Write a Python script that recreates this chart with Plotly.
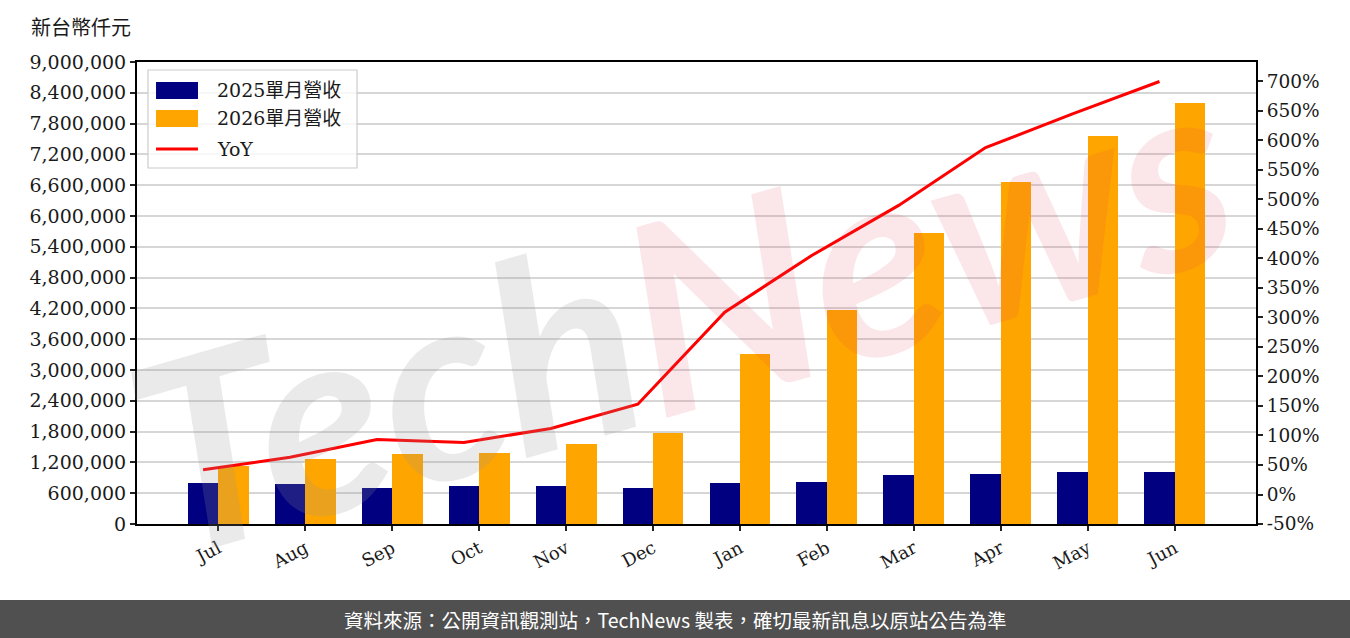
import numpy as np
import plotly.graph_objects as go

months = ["Jul", "Aug", "Sep", "Oct", "Nov", "Dec", "Jan", "Feb", "Mar", "Apr", "May", "Jun"]
rev_2025 = [793000, 774000, 697000, 735000, 735000, 697000, 803000, 823000, 959000, 965000, 1017000, 1017000]
rev_2026 = [1123000, 1258000, 1355000, 1374000, 1568000, 1781000, 3310000, 4166000, 5666000, 6671000, 7557000, 8196000]
yoy_pct = [42, 63, 93, 88, 112, 153, 309, 405, 490, 588, 645, 700]
left_ticks = list(range(0, 9000001, 600000))
right_ticks = list(range(-50, 701, 50))
right_labels = [f"{v}%" for v in right_ticks]

name_2025 = "2025單月營收"
name_2026 = "2026單月營收"
name_yoy = "YoY"

idx = np.arange(len(months))
w = 0.35
serif = "DejaVu Serif, Noto Sans CJK TC, serif"
cjk = "Noto Sans CJK TC, sans-serif"
txt = "#1a1a1a"

fig = go.Figure()
fig.add_trace(go.Bar(x=idx - w / 2, y=rev_2025, width=w, marker=dict(color="#000080", line=dict(width=0)),
                     name=name_2025, showlegend=False))
fig.add_trace(go.Bar(x=idx + w / 2, y=rev_2026, width=w, marker=dict(color="#FFA500", line=dict(width=0)),
                     name=name_2026, showlegend=False))
fig.add_trace(go.Scatter(x=idx - w / 2, y=yoy_pct, yaxis="y2", mode="lines",
                         line=dict(color="#FF0000", width=3), name=name_yoy, showlegend=False))

fig.update_layout(
    width=1350, height=638,
    margin=dict(l=137, r=94, t=62, b=114),
    paper_bgcolor="white", plot_bgcolor="white",
    barmode="overlay", bargap=0,
    xaxis=dict(range=[-0.935, 11.935], tickmode="array", tickvals=idx, ticktext=months,
               tickangle=-28, showline=True, linecolor="black", linewidth=2, mirror=True,
               ticks="outside", ticklen=5, tickwidth=1.5, tickcolor="#222",
               showgrid=False, zeroline=False,
               tickfont=dict(family=serif, size=18, color=txt)),
    yaxis=dict(range=[0, 9000000], tickmode="array", tickvals=left_ticks,
               tickformat=",d", showline=True, linecolor="black", linewidth=2,
               ticks="outside", ticklen=5, tickwidth=1.5, tickcolor="#222",
               showgrid=True, gridcolor="#d6d6d6", gridwidth=1.6, zeroline=False,
               tickfont=dict(family=serif, size=19, color=txt)),
    yaxis2=dict(range=[-50, 733], overlaying="y", side="right", tickmode="array",
                tickvals=right_ticks, ticktext=right_labels, showline=True, linecolor="black",
                linewidth=2, ticks="outside", ticklen=5, tickwidth=1.5, tickcolor="#222",
                showgrid=False, zeroline=False,
                tickfont=dict(family=serif, size=18.5, color=txt)),
)

# y-axis unit title
fig.add_annotation(text="新台幣仟元", xref="paper", yref="paper", x=-0.0497, y=1.076,
                   showarrow=False, font=dict(family=cjk, size=20, color=txt),
                   xanchor="center", yanchor="middle")

# watermark
fig.add_annotation(
    text="<span style='color:rgba(150,150,150,0.2)'>Tech</span><span style='color:rgba(220,60,80,0.12)'>News</span>",
    xref="paper", yref="paper", x=0.485, y=0.47, showarrow=False, textangle=-16,
    font=dict(family="Lato", size=265, weight="bold", style="italic"),
    xanchor="center", yanchor="middle")

# custom legend
shapes = []
shapes.append(dict(type="rect", xref="paper", yref="paper", x0=0.0098, x1=0.1966, y0=0.7706, y1=0.9827,
                   line=dict(color="#cccccc", width=1.2), fillcolor="rgba(255,255,255,0.8)", layer="above"))
shapes.append(dict(type="rect", xref="paper", yref="paper", x0=0.0170, x1=0.0545, y0=0.9199, y1=0.9567,
                   line=dict(width=0), fillcolor="#000080", layer="above"))
shapes.append(dict(type="rect", xref="paper", yref="paper", x0=0.0170, x1=0.0545, y0=0.8593, y1=0.8961,
                   line=dict(width=0), fillcolor="#FFA500", layer="above"))
shapes.append(dict(type="line", xref="paper", yref="paper", x0=0.0170, x1=0.0545, y0=0.8117, y1=0.8117,
                   line=dict(color="#FF0000", width=3), layer="above"))
# footer bar
shapes.append(dict(type="rect", xref="paper", yref="paper", x0=-0.13, x1=1.09, y0=-0.2500, y1=-0.1645,
                   line=dict(width=0), fillcolor="#505050", layer="above"))
fig.update_layout(shapes=shapes)

for label, yy in [(name_2025, 0.9394), (name_2026, 0.8788), (name_yoy, 0.8117)]:
    fig.add_annotation(text=label, xref="paper", yref="paper", x=0.0697, y=yy, showarrow=False,
                       xanchor="left", yanchor="middle",
                       font=dict(family=serif, size=19, color=txt))

fig.add_annotation(text="資料來源：公開資訊觀測站，TechNews 製表，確切最新訊息以原站公告為準",
                   xref="paper", yref="paper", x=(675 - 137) / 1119, y=-0.2065, showarrow=False,
                   xanchor="center", yanchor="middle",
                   font=dict(family=cjk, size=19.5, color="white"))

fig.write_html("out.html")
